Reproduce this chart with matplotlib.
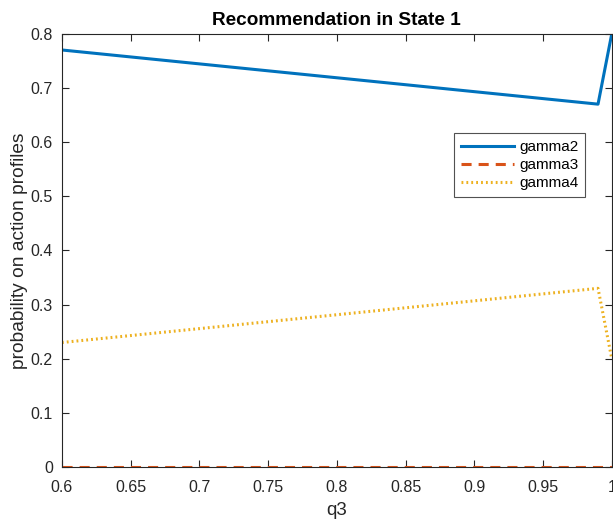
import matplotlib
matplotlib.use("Agg")
import matplotlib.pyplot as plt
import numpy as np

q3 = [0.6, 0.99, 1.0]
gamma2 = [0.77, 0.67, 0.80]
gamma3 = [0.0, 0.0, 0.0]
gamma4 = [0.23, 0.33, 0.20]

xtick_labels = ['0.6', '0.65', '0.7', '0.75', '0.8', '0.85', '0.9', '0.95', '1']
ytick_labels = ['0', '0.1', '0.2', '0.3', '0.4', '0.5', '0.6', '0.7', '0.8']

plt.rcParams['font.family'] = ['Liberation Sans', 'DejaVu Sans']

fig = plt.figure(figsize=(6.13, 5.19), dpi=100)
ax = fig.add_axes([0.101, 0.100, 0.897, 0.835])

ax.plot(q3, gamma2, color=(0, 0.447, 0.741), lw=2.2, label='gamma2')
ax.plot(q3, gamma3, color=(0.85, 0.325, 0.098), lw=2.2, ls=(0, (3.3, 2.3)), label='gamma3')
ax.plot(q3, gamma4, color=(0.929, 0.694, 0.125), lw=2.2, ls=(0, (0.6, 1.0)), label='gamma4')

ax.set_xlim(0.6, 1.0)
ax.set_ylim(0, 0.8)
ax.set_xticks(np.linspace(0.6, 1.0, len(xtick_labels)))
ax.set_xticklabels(xtick_labels)
ax.set_yticks(np.linspace(0, 0.8, len(ytick_labels)))
ax.set_yticklabels(ytick_labels)
ax.tick_params(direction='in', top=True, right=True, labelsize=11.5, length=5,
               color='#262626', labelcolor='#262626')
ax.tick_params(axis='x', pad=9)
ax.tick_params(axis='y', pad=6.5)
for s in ax.spines.values():
    s.set_color('#262626')
    s.set_linewidth(0.8)

ax.set_xlabel('q3', fontsize=13.5, color='#262626')
ax.set_ylabel('probability on action profiles', fontsize=13.8, color='#262626')
ax.xaxis.set_label_coords(0.5, -0.081)
ax.yaxis.set_label_coords(-0.0615, 0.5)
ax.set_title('Recommendation in State 1', fontsize=13.7, fontweight='bold', pad=6)

leg = ax.legend(loc='upper left', bbox_to_anchor=(0.713, 0.771), fontsize=11, frameon=True,
                fancybox=False, edgecolor='#262626', handlelength=3.5, borderpad=0.45,
                labelspacing=0.28, handletextpad=0.3, borderaxespad=0)
leg.get_frame().set_linewidth(0.8)

fig.savefig('out.png', dpi=100)
